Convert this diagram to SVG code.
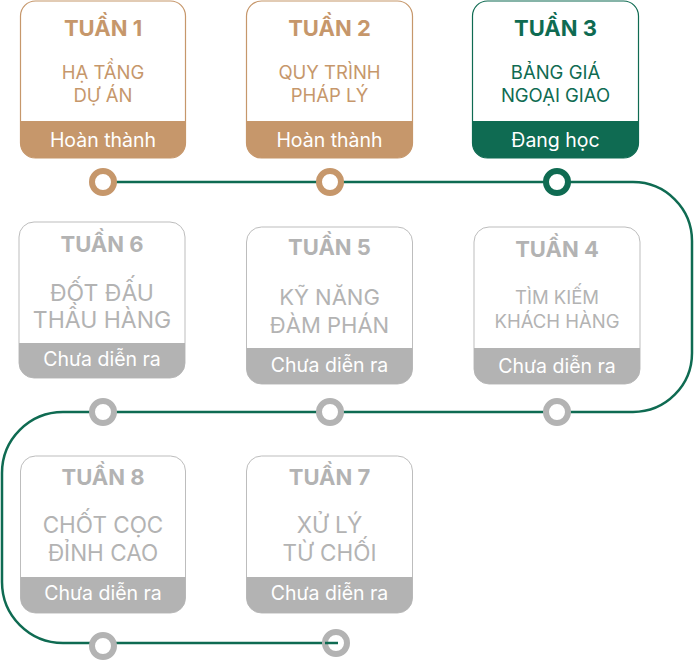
<svg xmlns="http://www.w3.org/2000/svg" width="694" height="660" viewBox="0 0 694 660">
<style>
  text { font-family: Inter, Roboto, "Liberation Sans", sans-serif; text-anchor: middle; }
  .title { font-weight: 700; font-size: 22px; }
  .foot { font-size: 19.5px; fill: #ffffff; }
  .tan .box { fill: #ffffff; stroke: #c6976b; stroke-width: 1.2; }
  .tan .band { fill: #c6976b; }
  .tan .t { fill: #c6976b; }
  .green .box { fill: #ffffff; stroke: #0f6b52; stroke-width: 1.2; }
  .green .band { fill: #0f6b52; }
  .green .t { fill: #0f6b52; }
  .grey .box { fill: #ffffff; stroke: #bdbdbd; stroke-width: 1; }
  .grey .band { fill: #b3b3b3; }
  .grey .t { fill: #b3b3b3; }
  .body { font-size: 18.5px; }
  .dot { fill: #ffffff; stroke-width: 6; }
  .dot.tan { stroke: #c6976b; }
  .dot.green { stroke: #0f6b52; }
  .dot.grey { stroke: #b3b3b3; }
  .line { fill: none; stroke: #0f6b52; stroke-width: 2.5; }
</style>
<rect width="694" height="660" fill="#ffffff"/>

<g id="connectors">
  <path class="line" d="M 103 182 H 633 A 59 59 0 0 1 692 241 V 353 A 59 59 0 0 1 633 412 H 63 A 61 61 0 0 0 2 473 V 582 A 61 61 0 0 0 63 643 H 338"/>
</g>

<g id="week1" class="tan">
  <rect class="box" x="20.5" y="1" width="165" height="157" rx="15"/>
  <path class="band" d="M 20.5 121 H 185.5 V 143 A 15 15 0 0 1 170.5 158 H 35.5 A 15 15 0 0 1 20.5 143 Z"/>
  <text class="title t" x="103" y="36">TUẦN 1</text>
  <text class="body t" x="103" y="78.5">HẠ TẦNG</text>
  <text class="body t" x="103" y="101.5">DỰ ÁN</text>
  <text class="foot" x="103" y="146.5">Hoàn thành</text>
</g>

<g id="week2" class="tan">
  <rect class="box" x="246.5" y="1" width="166" height="157" rx="15"/>
  <path class="band" d="M 246.5 121 H 412.5 V 143 A 15 15 0 0 1 397.5 158 H 261.5 A 15 15 0 0 1 246.5 143 Z"/>
  <text class="title t" x="329.5" y="36">TUẦN 2</text>
  <text class="body t" x="329.5" y="78.5">QUY TRÌNH</text>
  <text class="body t" x="329.5" y="101.5">PHÁP LÝ</text>
  <text class="foot" x="329.5" y="146.5">Hoàn thành</text>
</g>

<g id="week3" class="green">
  <rect class="box" x="472.5" y="1" width="166" height="157" rx="15"/>
  <path class="band" d="M 472.5 121 H 638.5 V 143 A 15 15 0 0 1 623.5 158 H 487.5 A 15 15 0 0 1 472.5 143 Z"/>
  <text class="title t" x="555.5" y="36">TUẦN 3</text>
  <text class="body t" x="555.5" y="78.5">BẢNG GIÁ</text>
  <text class="body t" x="555.5" y="101.5">NGOẠI GIAO</text>
  <text class="foot" x="555.5" y="146.5">Đang học</text>
</g>

<g id="week6" class="grey">
  <rect class="box" x="19" y="222" width="166" height="156" rx="15"/>
  <path class="band" d="M 19 343 H 185 V 363 A 15 15 0 0 1 170 378 H 34 A 15 15 0 0 1 19 363 Z"/>
  <text class="title t" x="102" y="252">TUẦN 6</text>
  <text class="t" x="102" y="300.5" font-size="23">ĐỐT ĐẤU</text>
  <text class="t" x="102" y="328" font-size="23">THẦU HÀNG</text>
  <text class="foot" x="102" y="365.5">Chưa diễn ra</text>
</g>

<g id="week5" class="grey">
  <rect class="box" x="246.5" y="227" width="166" height="157" rx="15"/>
  <path class="band" d="M 246.5 348 H 412.5 V 369 A 15 15 0 0 1 397.5 384 H 261.5 A 15 15 0 0 1 246.5 369 Z"/>
  <text class="title t" x="329.5" y="255">TUẦN 5</text>
  <text class="t" x="329.5" y="304.5" font-size="22">KỸ NĂNG</text>
  <text class="t" x="329.5" y="332.5" font-size="22">ĐÀM PHÁN</text>
  <text class="foot" x="329.5" y="372">Chưa diễn ra</text>
</g>

<g id="week4" class="grey">
  <rect class="box" x="474" y="227" width="166" height="157" rx="15"/>
  <path class="band" d="M 474 348 H 640 V 369 A 15 15 0 0 1 625 384 H 489 A 15 15 0 0 1 474 369 Z"/>
  <text class="title t" x="557" y="256.5">TUẦN 4</text>
  <text class="t" x="557" y="303.5" font-size="18.5">TÌM KIẾM</text>
  <text class="t" x="557" y="328" font-size="18.5">KHÁCH HÀNG</text>
  <text class="foot" x="557" y="373">Chưa diễn ra</text>
</g>

<g id="week8" class="grey">
  <rect class="box" x="20.5" y="456" width="165" height="157" rx="15"/>
  <path class="band" d="M 20.5 577 H 185.5 V 598 A 15 15 0 0 1 170.5 613 H 35.5 A 15 15 0 0 1 20.5 598 Z"/>
  <text class="title t" x="103" y="485">TUẦN 8</text>
  <text class="t" x="103" y="533" font-size="22.5">CHỐT CỌC</text>
  <text class="t" x="103" y="560.5" font-size="22.5">ĐỈNH CAO</text>
  <text class="foot" x="103" y="599.5">Chưa diễn ra</text>
</g>

<g id="week7" class="grey">
  <rect class="box" x="246.5" y="456" width="166" height="157" rx="15"/>
  <path class="band" d="M 246.5 577 H 412.5 V 598 A 15 15 0 0 1 397.5 613 H 261.5 A 15 15 0 0 1 246.5 598 Z"/>
  <text class="title t" x="329.5" y="485">TUẦN 7</text>
  <text class="t" x="329.5" y="533" font-size="22.5">XỬ LÝ</text>
  <text class="t" x="329.5" y="560.5" font-size="22.5">TỪ CHỐI</text>
  <text class="foot" x="329.5" y="599.5">Chưa diễn ra</text>
</g>

<g id="dots">
  <circle class="dot tan" cx="103" cy="182" r="11"/>
  <circle class="dot tan" cx="330" cy="182" r="11"/>
  <circle class="dot green" cx="557" cy="182" r="11"/>
  <circle class="dot grey" cx="103" cy="412" r="11"/>
  <circle class="dot grey" cx="330" cy="412" r="11"/>
  <circle class="dot grey" cx="557" cy="412" r="11"/>
  <circle class="dot grey" cx="103" cy="646" r="11"/>
  <circle class="dot grey" cx="336" cy="643" r="11"/>
</g>
<path class="line" d="M 325 643 H 338"/>
</svg>
